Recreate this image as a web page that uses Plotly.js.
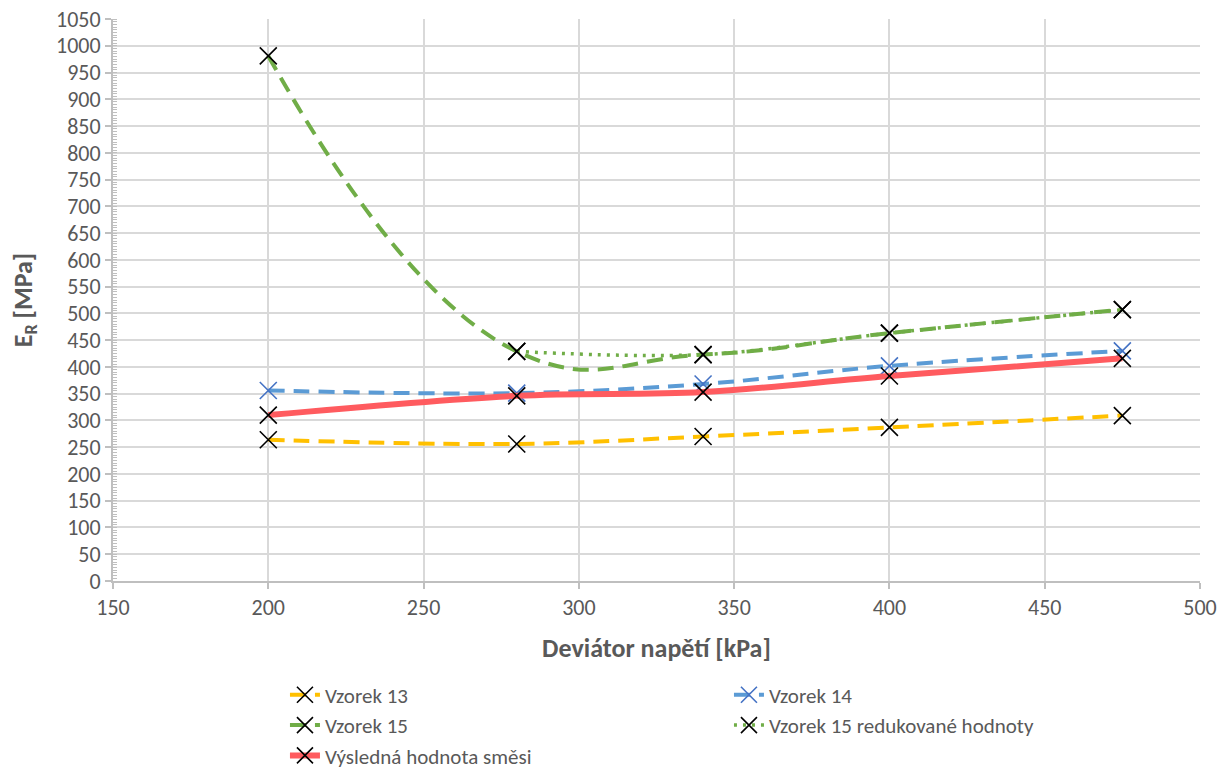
<!DOCTYPE html>
<html>
<head>
<meta charset="utf-8">
<script src="https://cdn.plot.ly/plotly-3.0.1.min.js"></script>
<style>html,body{margin:0;padding:0;background:#fff;}#chart{width:1223px;height:771px;}</style>
</head>
<body>
<div id="chart"></div>
<script>
const deviator = [200, 280, 340, 400, 475];
const deviatorReduced = [280, 340, 400, 475];
const vzorek13 = [264, 256, 270, 287, 309];
const vzorek14 = [356, 351, 368, 402, 430];
const vzorek15 = [981, 429, 423, 463, 507];
const vzorek15Reduced = [429, 423, 463, 507];
const vysledna = [310, 346, 353, 383, 416];

const font = 'Calibri, Carlito, Lato, "Liberation Sans", sans-serif';
const grey = '#595959';
const mk = (c) => ({symbol: 'x-thin-open', size: 17, color: c, line: {color: c, width: 1.6}});

const traces = [
  {name: 'Vzorek 13', x: deviator, y: vzorek13, mode: 'lines+markers',
   line: {color: '#FFC000', width: 4, dash: '16px,9px', shape: 'spline', smoothing: 1}, marker: mk('#000')},
  {name: 'Vzorek 14', x: deviator, y: vzorek14, mode: 'lines+markers',
   line: {color: '#5B9BD5', width: 4, dash: '16px,9px', shape: 'spline', smoothing: 1}, marker: mk('#4472C4')},
  {name: 'Vzorek 15', x: deviator, y: vzorek15, mode: 'lines+markers',
   line: {color: '#70AD47', width: 4, dash: '16px,9px', shape: 'spline', smoothing: 1.3}, marker: mk('#000')},
  {name: 'Vzorek 15 redukované hodnoty', x: deviatorReduced, y: vzorek15Reduced, mode: 'lines+markers',
   line: {color: '#70AD47', width: 3.5, dash: '3px,6px', shape: 'spline', smoothing: 1}, marker: mk('#000')},
  {name: 'Výsledná hodnota směsi', x: deviator, y: vysledna, mode: 'lines+markers',
   line: {color: '#FF5B5F', width: 6, shape: 'spline', smoothing: 1}, marker: mk('#000')}
];

const layout = {
  width: 1223, height: 771,
  margin: {l: 113, r: 23, t: 19, b: 190},
  paper_bgcolor: '#fff', plot_bgcolor: '#fff',
  font: {family: font, color: grey, size: 22},
  showlegend: true,
  xaxis: {
    range: [150, 500], dtick: 50, tick0: 150,
    showgrid: true, gridcolor: '#d9d9d9', gridwidth: 2,
    zeroline: false, showline: true, linecolor: '#bfbfbf', linewidth: 2,
    ticks: 'outside', ticklen: 6, tickcolor: '#bfbfbf', tickwidth: 2,
    tickfont: {size: 22, color: grey, family: font},
    automargin: false,
    title: {text: '<b>Deviátor napětí [kPa]</b>', font: {size: 26, color: grey, family: font}, standoff: 18}
  },
  yaxis: {
    range: [0, 1050], dtick: 50, tick0: 0,
    showgrid: true, gridcolor: '#d9d9d9', gridwidth: 2,
    zeroline: false, showline: true, linecolor: '#bfbfbf', linewidth: 2,
    ticks: 'outside', ticklen: 6, tickcolor: '#bfbfbf', tickwidth: 2,
    minor: {dtick: 5, ticks: 'inside', ticklen: 4, tickcolor: '#bfbfbf', tickwidth: 1, showgrid: false},
    tickfont: {size: 22, color: grey, family: font},
    automargin: false,
    title: {text: '<b>E<sub>R</sub> [MPa]</b>', font: {size: 26, color: grey, family: font}, standoff: 16}
  },
  legend: {
    orientation: 'h', xref: 'container', x: 0.233, xanchor: 'left',
    yref: 'container', y: 0.125, yanchor: 'top',
    entrywidth: 399, entrywidthmode: 'pixels', traceorder: 'normal',
    font: {size: 21, color: grey, family: font}, tracegroupgap: 0
  }
};

Plotly.newPlot('chart', traces, layout, {displayModeBar: false, staticPlot: true});
</script>
</body>
</html>
